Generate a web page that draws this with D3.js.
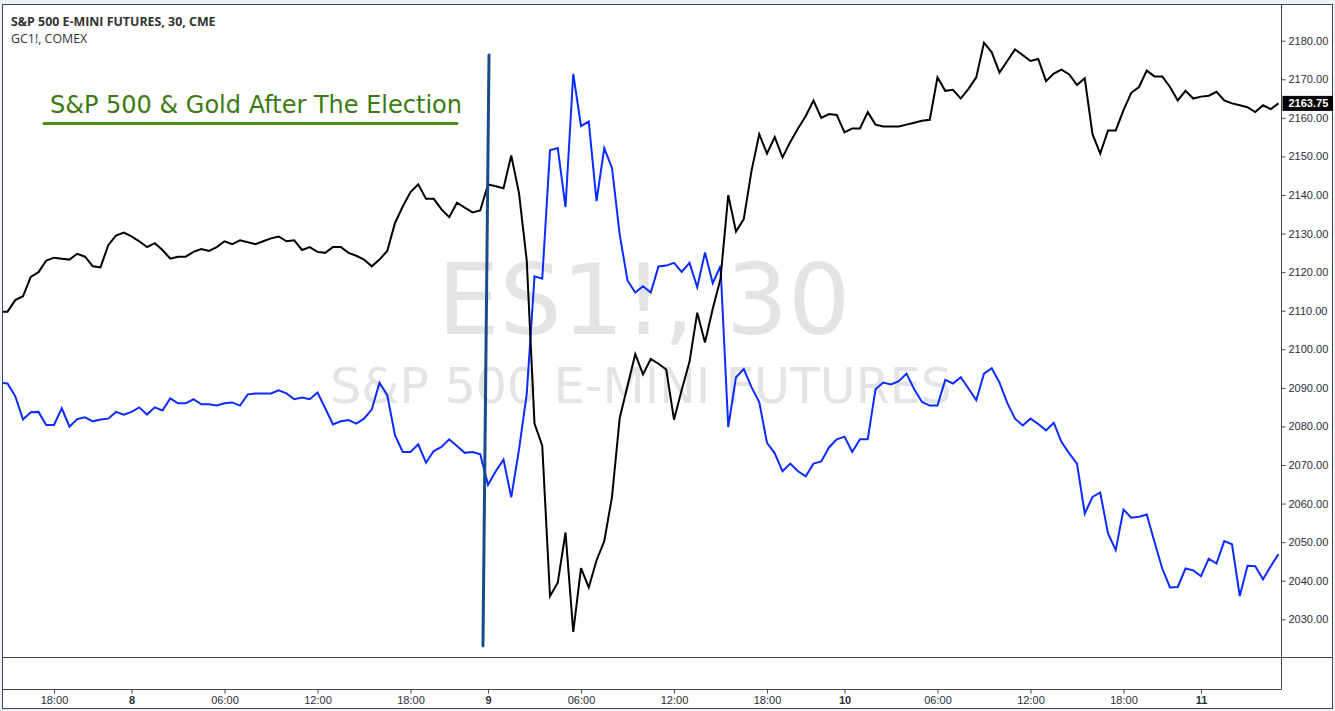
<!DOCTYPE html>
<html>
<head>
<meta charset="utf-8">
<script src="https://cdn.jsdelivr.net/npm/d3@7"></script>
<style>
  html, body { margin: 0; padding: 0; background: #eef1f5; }
  svg { display: block; }
</style>
</head>
<body>
<svg id="chart" width="1335" height="711"></svg>
<script>
// ---------------- data ----------------
const mainTitle = "S&P 500 E-MINI FUTURES, 30, CME";
const overlayTitle = "GC1!, COMEX";
const watermarkSymbol = "ES1!, 30";
const watermarkName = "S&P 500 E-MINI FUTURES";
const annotationText = "S&P 500 & Gold After The Election";

// S&P 500 E-mini (ES1!) 30-minute closes, one per bar
const spValues = [
  2109.75, 2109.75, 2112.75, 2113.75, 2118.75, 2120.0, 2123.0, 2123.75, 2123.5, 2123.25,
  2124.75, 2124.0, 2121.5, 2121.25, 2127.0, 2129.5, 2130.25, 2129.25, 2128.0, 2126.5,
  2127.5, 2125.75, 2123.5, 2124.0, 2124.0, 2125.25, 2126.0, 2125.5, 2126.5, 2128.0,
  2127.25, 2128.25, 2127.75, 2127.25, 2128.0, 2128.75, 2129.25, 2128.0, 2128.25, 2125.75,
  2126.5, 2125.25, 2125.0, 2126.5, 2126.5, 2125.0, 2124.25, 2123.25, 2121.5, 2123.25,
  2125.5, 2132.75, 2137.0, 2140.75, 2142.75, 2139.0, 2139.0, 2136.25, 2134.25, 2138.0,
  2136.75, 2135.5, 2136.0, 2142.75, 2142.25, 2141.75, 2150.25, 2140.5, 2123.0, 2080.75,
  2075.0, 2036.0, 2039.5, 2052.5, 2026.75, 2043.25, 2038.25, 2045.25, 2050.25, 2061.75,
  2082.25, 2090.5, 2098.75, 2093.5, 2097.5, 2096.25, 2094.75, 2081.75, 2089.5, 2096.75,
  2109.5, 2101.75, 2110.5, 2118.25, 2140.0, 2130.5, 2133.75, 2146.25, 2155.75, 2150.75,
  2155.0, 2149.75, 2153.75, 2157.25, 2160.5, 2164.5, 2160.0, 2161.0, 2160.75, 2156.25,
  2157.25, 2157.25, 2161.5, 2158.25, 2157.75, 2157.75, 2157.75, 2158.25, 2158.75, 2159.25,
  2159.5, 2170.5, 2167.0, 2167.25, 2165.0, 2167.5, 2170.5, 2179.5, 2177.0, 2171.75,
  2174.75, 2177.75, 2176.25, 2174.75, 2175.25, 2169.5, 2171.5, 2172.5, 2171.25, 2168.5,
  2170.25, 2155.75, 2150.75, 2156.75, 2156.75, 2162.0, 2166.5, 2168.0, 2172.25, 2170.75,
  2170.75, 2168.0, 2164.5, 2167.0, 2165.0, 2165.5, 2165.75, 2166.75, 2164.5, 2163.75,
  2163.25, 2162.75, 2161.5, 2163.25, 2162.25, 2163.75
];

// Gold futures (GC1!) 30-minute closes, overlaid on its own hidden scale
const goldValues = [
  1269.4, 1269.2, 1266.4, 1261.2, 1262.8, 1262.9, 1260.0, 1260.0, 1263.7, 1259.6,
  1261.3, 1261.7, 1260.8, 1261.2, 1261.4, 1262.9, 1262.3, 1262.9, 1263.9, 1262.3,
  1263.9, 1263.2, 1265.9, 1264.8, 1264.8, 1265.7, 1264.6, 1264.6, 1264.3, 1264.8,
  1265.0, 1264.3, 1266.8, 1267.0, 1267.0, 1267.0, 1267.7, 1267.0, 1265.7, 1266.1,
  1265.7, 1267.2, 1263.7, 1260.1, 1260.8, 1261.1, 1260.3, 1261.4, 1263.4, 1269.4,
  1266.6, 1257.7, 1254.0, 1254.0, 1255.7, 1251.6, 1254.2, 1255.1, 1256.8, 1255.3,
  1253.8, 1254.0, 1253.5, 1246.7, 1249.7, 1252.3, 1243.9, 1254.5, 1266.9, 1293.0,
  1292.5, 1321.0, 1321.5, 1308.4, 1338.0, 1326.4, 1327.4, 1309.7, 1321.5, 1317.1,
  1302.2, 1292.1, 1289.4, 1290.8, 1289.4, 1295.2, 1295.4, 1296.0, 1294.0, 1296.0,
  1290.6, 1298.3, 1291.5, 1295.3, 1259.5, 1270.6, 1272.4, 1268.4, 1265.1, 1256.0,
  1253.7, 1249.7, 1251.4, 1249.7, 1248.6, 1251.4, 1251.9, 1255.0, 1256.8, 1257.4,
  1254.0, 1256.8, 1256.8, 1267.9, 1269.4, 1269.0, 1269.7, 1271.4, 1267.9, 1265.1,
  1264.3, 1264.3, 1270.0, 1269.2, 1270.6, 1268.1, 1265.5, 1271.4, 1272.6, 1269.4,
  1264.9, 1261.4, 1259.9, 1261.4, 1260.2, 1258.8, 1260.5, 1256.2, 1253.7, 1251.4,
  1240.3, 1244.0, 1245.0, 1235.9, 1232.2, 1241.2, 1239.4, 1239.6, 1240.1, 1234.0,
  1228.1, 1223.9, 1224.0, 1228.1, 1227.7, 1226.4, 1230.3, 1229.2, 1234.2, 1233.5,
  1222.0, 1228.7, 1228.6, 1225.7, 1228.6, 1231.3
];

const priceTicks = [2030, 2040, 2050, 2060, 2070, 2080, 2090, 2100, 2110, 2120, 2130, 2140, 2150, 2160, 2170, 2180];
const timeTickBars = [7, 17, 29, 41, 53, 63, 75, 87, 99, 109, 121, 133, 145, 155];
const timeTickLabels = ["18:00", "8", "06:00", "12:00", "18:00", "9", "06:00", "12:00", "18:00", "10", "06:00", "12:00", "18:00", "11"];
const dayLabels = ["8", "9", "10", "11"];
const lastPrice = 2163.75;
// hand-drawn trend line marking the election result (bar index, price)
const electionLineBars = [63.13, 62.35];
const electionLinePrices = [2176.3, 2023.1];

// ---------------- layout ----------------
const frame = { left: 2.5, top: 4.5, right: 1332.5, bottom: 708.5 };
const plot = { left: 3, top: 5, right: 1281, bottom: 657 };
const axisY = 689.5;

const svg = d3.select("#chart");

// frame background
svg.append("rect")
  .attr("x", frame.left).attr("y", frame.top)
  .attr("width", frame.right - frame.left).attr("height", frame.bottom - frame.top)
  .attr("fill", "#ffffff").attr("stroke", "#434651").attr("stroke-width", 1);

const x = d3.scaleLinear().domain([0, spValues.length - 1]).range([-0.25, 1278.5]);
const y = d3.scaleLinear().domain([2030, 2180]).range([619.3, 40.7]);
const yGold = d3.scaleLinear().domain([1222, 1338]).range([596, 73.8]);

svg.append("defs").append("clipPath").attr("id", "plotClip")
  .append("rect")
  .attr("x", plot.left).attr("y", plot.top)
  .attr("width", plot.right - plot.left).attr("height", plot.bottom - plot.top);

// watermark
const wm = svg.append("g").attr("clip-path", "url(#plotClip)");
wm.append("text")
  .attr("x", 644).attr("y", 334)
  .attr("text-anchor", "middle")
  .attr("font-family", "DejaVu Sans, Verdana, sans-serif")
  .attr("font-size", 98)
  .attr("fill", "#e4e4e4")
  .text(watermarkSymbol);
wm.append("text")
  .attr("x", 641).attr("y", 403)
  .attr("text-anchor", "middle")
  .attr("font-family", "DejaVu Sans, Verdana, sans-serif")
  .attr("font-size", 49)
  .attr("fill", "#e4e4e4")
  .text(watermarkName);

// series lines
const g = svg.append("g").attr("clip-path", "url(#plotClip)");
const spLine = d3.line().x((d, i) => x(i)).y(d => y(d));
const goldLine = d3.line().x((d, i) => x(i)).y(d => yGold(d));

g.append("path").datum(goldValues)
  .attr("d", goldLine)
  .attr("fill", "none").attr("stroke", "#0c2cff").attr("stroke-width", 2)
  .attr("stroke-linejoin", "miter");

g.append("path").datum(spValues)
  .attr("d", spLine)
  .attr("fill", "none").attr("stroke", "#000000").attr("stroke-width", 2)
  .attr("stroke-linejoin", "miter");

// election trend line
g.append("line")
  .attr("x1", x(electionLineBars[0])).attr("y1", y(electionLinePrices[0]))
  .attr("x2", x(electionLineBars[1])).attr("y2", y(electionLinePrices[1]))
  .attr("stroke", "#1b4a8a").attr("stroke-width", 3).attr("stroke-linecap", "round");

// green annotation
svg.append("text")
  .attr("x", 50).attr("y", 113)
  .attr("font-family", "DejaVu Sans, Verdana, sans-serif")
  .attr("font-size", 24)
  .attr("fill", "#3a7a10")
  .text(annotationText);
svg.append("line")
  .attr("x1", 44).attr("y1", 123.5).attr("x2", 457).attr("y2", 123.5)
  .attr("stroke", "#4a8c14").attr("stroke-width", 3).attr("stroke-linecap", "round");

// legend titles
svg.append("text")
  .attr("x", 11).attr("y", 26)
  .attr("font-family", "Open Sans, sans-serif")
  .attr("font-weight", "bold")
  .attr("font-size", 12.4)
  .attr("fill", "#333333")
  .text(mainTitle);
svg.append("text")
  .attr("x", 11).attr("y", 43)
  .attr("font-family", "Open Sans, sans-serif")
  .attr("font-size", 12.4)
  .attr("fill", "#333333")
  .text(overlayTitle);

// pane separators
svg.append("line")
  .attr("x1", frame.left).attr("x2", frame.right)
  .attr("y1", 657.5).attr("y2", 657.5)
  .attr("stroke", "#434651").attr("stroke-width", 1);
svg.append("line")
  .attr("x1", frame.left).attr("x2", 1281.5)
  .attr("y1", axisY).attr("y2", axisY)
  .attr("stroke", "#434651").attr("stroke-width", 1);
svg.append("line")
  .attr("x1", 1281.5).attr("x2", 1281.5)
  .attr("y1", frame.top).attr("y2", axisY)
  .attr("stroke", "#434651").attr("stroke-width", 1);

// right price axis
const yAxis = d3.axisRight(y).tickValues(priceTicks).tickSize(4).tickPadding(3)
  .tickFormat(d3.format(".2f"));
const ya = svg.append("g").attr("transform", "translate(1281.5,0)").call(yAxis);
ya.select(".domain").remove();
ya.selectAll(".tick line").attr("stroke", "#434651");
ya.selectAll(".tick text")
  .attr("font-family", "Liberation Sans, Arial, sans-serif")
  .attr("font-size", 11).attr("fill", "#2a2e39");

// last price tag
const tag = svg.append("g").attr("transform", `translate(1281.5,${y(lastPrice)})`);
tag.append("rect").attr("x", 1).attr("y", -7.5).attr("width", 50.5).attr("height", 15).attr("fill", "#000000");
tag.append("text")
  .attr("x", 7).attr("y", 0).attr("dy", "0.35em")
  .attr("font-family", "Liberation Sans, Arial, sans-serif")
  .attr("font-weight", "bold")
  .attr("font-size", 11).attr("fill", "#ffffff")
  .text(d3.format(".2f")(lastPrice));

// bottom time axis
const xAxis = d3.axisBottom(x).tickValues(timeTickBars).tickSize(4).tickPadding(3)
  .tickFormat((d, i) => timeTickLabels[i]);
const xa = svg.append("g").attr("transform", `translate(0,${axisY})`).call(xAxis);
xa.select(".domain").remove();
xa.selectAll(".tick line").attr("stroke", "#434651");
xa.selectAll(".tick text")
  .attr("font-family", "Liberation Sans, Arial, sans-serif")
  .attr("font-size", 11).attr("fill", "#2a2e39")
  .attr("font-weight", (d, i) => dayLabels.includes(timeTickLabels[i]) ? "bold" : "normal");
</script>
</body>
</html>
